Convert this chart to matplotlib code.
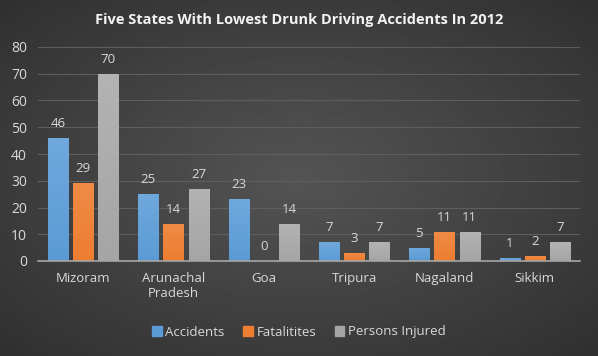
import matplotlib.pyplot as plt
import numpy as np
from matplotlib.patches import Patch

STATES = ["Mizoram", "Arunachal\nPradesh", "Goa", "Tripura", "Nagaland", "Sikkim"]
ACCIDENTS = [46, 25, 23, 7, 5, 1]
FATALITIES = [29, 14, 0, 3, 11, 2]
INJURED = [70, 27, 14, 7, 11, 7]
SERIES = ["Accidents", "Fatalitites", "Persons Injured"]
COLORS = ["#5B9BD5", "#ED7D31", "#A5A5A5"]
TOP_COLORS = ["#6FA8DC", "#F08B45", "#B3B3B3"]

plt.rcParams["font.family"] = ["Open Sans", "DejaVu Sans"]
TEXT = "#D9D9D9"

fig = plt.figure(figsize=(5.98, 3.56), dpi=100)

# radial background, lighter in the middle
bg = fig.add_axes([0, 0, 1, 1], zorder=-10)
yy, xx = np.mgrid[-1:1:200j, -1:1:300j]
r = np.sqrt(xx ** 2 + yy ** 2)
bg.imshow(0.33 - 0.14 * np.clip(r / 1.4, 0, 1), cmap="gray", vmin=0, vmax=1, aspect="auto", extent=[0, 1, 0, 1])
bg.axis("off")

ax = fig.add_axes([38 / 598, 95 / 356, 542 / 598, 214 / 356])
ax.patch.set_alpha(0)

x = np.arange(len(STATES))
width = 20 / 90
step = 25 / 90
for k, (vals, c, ct) in enumerate(zip([ACCIDENTS, FATALITIES, INJURED], COLORS, TOP_COLORS)):
    pos = x + (k - 1) * step
    bars = ax.bar(pos, vals, width, color=c, zorder=2)
    cmap = plt.matplotlib.colors.LinearSegmentedColormap.from_list("g", [c, ct])
    for b, v in zip(bars, vals):
        if v > 0:
            grad = np.linspace(0, 1, 50).reshape(-1, 1)
            im = ax.imshow(grad, cmap=cmap, aspect="auto", origin="lower",
                           extent=[b.get_x(), b.get_x() + width, 0, v], zorder=2)
            im.set_clip_path(b)
        ax.text(b.get_x() + width / 2, v + 3, str(v), ha="center", va="bottom",
                color=TEXT, fontsize=9.5)

ax.set_xlim(-0.5, len(STATES) - 0.5)
ax.set_ylim(0, 80)
ax.set_yticks(range(0, 81, 10))
ax.set_xticks(x)
ax.set_xticklabels(STATES)
ax.tick_params(length=0, colors=TEXT, labelsize=9.5)
ax.tick_params(axis="y", pad=8, labelsize=10)
ax.tick_params(axis="x", pad=8)
ax.grid(axis="y", color="#5E5E5E", linewidth=0.8, zorder=0)
ax.set_axisbelow(True)
for s in ["top", "right", "left"]:
    ax.spines[s].set_visible(False)
ax.spines["bottom"].set_color("#A6A6A6")
ax.spines["bottom"].set_linewidth(1.2)
ax.spines["bottom"].set_zorder(3)

fig.text(0.5, 1 - 20 / 356, "Five States With Lowest Drunk Driving Accidents In 2012",
         ha="center", va="center", color="#F2F2F2", fontsize=10.5, fontweight="bold")

handles = [Patch(color=c) for c in COLORS]
fig.legend(handles, SERIES, loc="center", bbox_to_anchor=(0.5, 1 - 332 / 356), ncol=3,
           frameon=False, labelcolor=TEXT, fontsize=9.5, handlelength=0.7, handleheight=0.7,
           handletextpad=0.3, columnspacing=1.4)

fig.savefig("out.png", dpi=100, facecolor="#404040")
